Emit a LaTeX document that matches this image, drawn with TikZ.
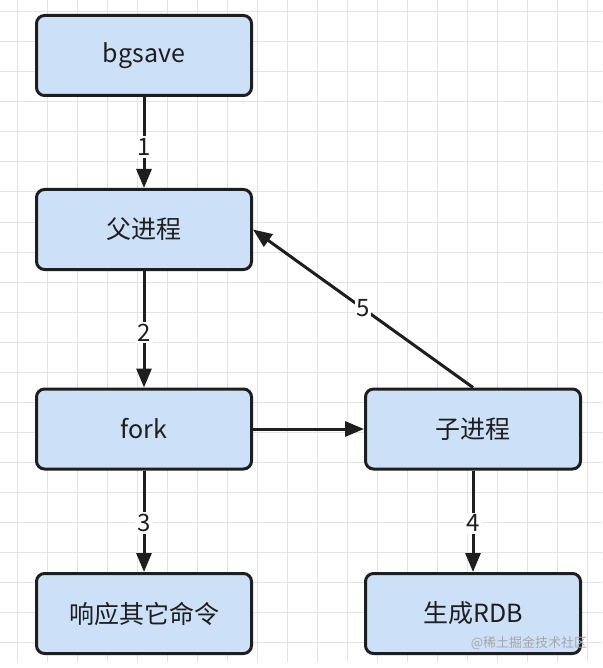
\documentclass[tikz,border=0pt]{standalone}
\usepackage{fontspec}
\setmainfont{Noto Sans CJK SC}
\usetikzlibrary{arrows.meta}

\definecolor{boxfill}{HTML}{CCE1F8}
\definecolor{boxline}{HTML}{1E1E1E}
\definecolor{gridgray}{HTML}{E3E3E3}

\tikzset{
  procbox/.style={draw=boxline, fill=boxfill, line width=3pt, rounded corners=8pt,
    minimum width=215pt, minimum height=80pt, text=boxline, font=\fontsize{25}{30}\selectfont},
  flow/.style={draw=boxline, line width=3pt, -{Triangle[length=19pt,width=15pt]}},
  steplabel/.style={fill=white, text=boxline, inner sep=2pt, font=\fontsize{24}{28}\selectfont}
}

\begin{document}
\begin{tikzpicture}[x=1pt, y=-1pt]
\useasboundingbox (0,0) rectangle (602,668);
\fill[white] (0,0) rectangle (602,668);

% Grid
\foreach \gx in {17,47,...,602} \draw[gridgray, line width=1pt] (\gx,0) -- (\gx,662);
\foreach \gy in {12,42,...,662} \draw[gridgray, line width=1pt] (0,\gy) -- (602,\gy);

% Boxes
\node[procbox] (bgsave) at (144,55.5) {bgsave};
\node[procbox] (parent) at (144,229.5) {父进程};
\node[procbox] (fork) at (144,429) {fork};
\node[procbox] (child) at (473,429) {子进程};
\node[procbox] (reply) at (144,613.5) {响应其它命令};
\node[procbox] (rdb) at (473,613.5) {生成RDB};

% Arrows
\draw[flow] (bgsave) -- node[steplabel, pos=0.55] {1} (parent);
\draw[flow] (parent) -- node[steplabel, pos=0.53] {2} (fork);
\draw[flow] (fork) -- node[steplabel, pos=0.52] {3} (reply);
\draw[flow] (fork) -- (child);
\draw[flow] (child) -- node[steplabel, pos=0.52] {4} (rdb);
\draw[flow] (child.north) -- node[steplabel, inner sep=1pt] {5} (parent.east);

% Watermark
\node[text=gray!70, font=\fontsize{13}{15}\selectfont] (mark) at (529,643) {@稀土掘金技术社区};
\end{tikzpicture}
\end{document}
